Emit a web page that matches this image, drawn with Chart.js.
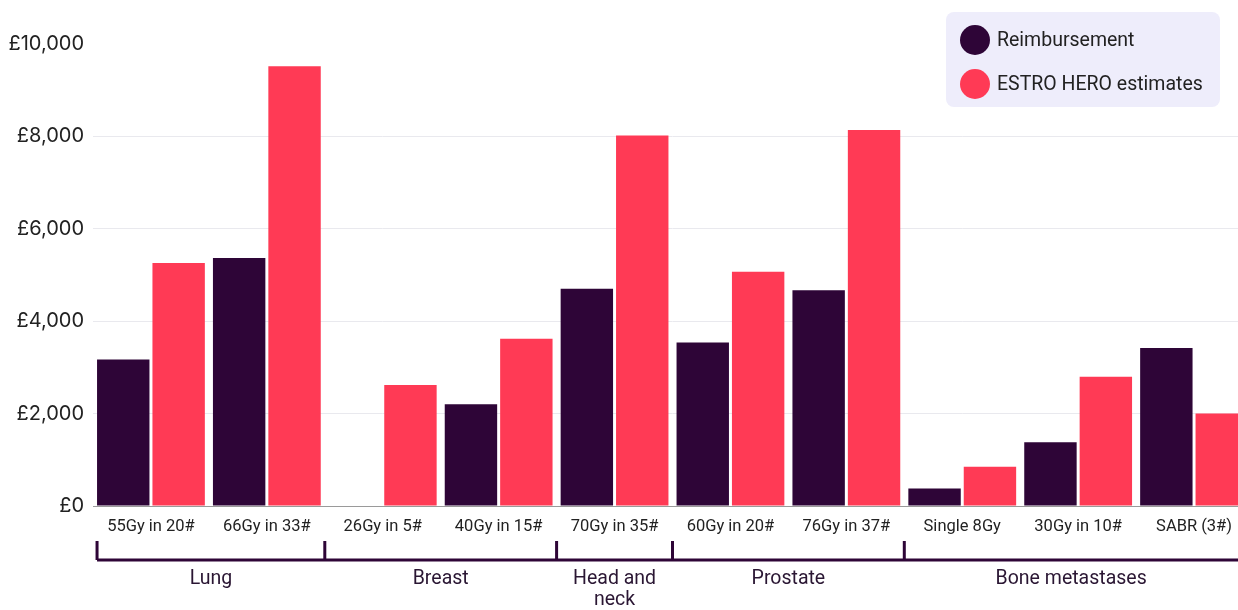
<!DOCTYPE html>
<html>
<head>
<meta charset="utf-8">
<script src="https://cdn.jsdelivr.net/npm/chart.js@4"></script>
<style>
  html, body { margin: 0; padding: 0; background: #ffffff; overflow: hidden; }
  #wrap { width: 1256px; height: 610px; position: relative; }
</style>
</head>
<body>
<div id="wrap"><canvas id="chart"></canvas></div>
<script>
// Treatment regimens (one bar pair each)
const regimens = ['55Gy in 20#', '66Gy in 33#', '26Gy in 5#', '40Gy in 15#', '70Gy in 35#',
                  '60Gy in 20#', '76Gy in 37#', 'Single 8Gy', '30Gy in 10#', 'SABR (3#)'];

// Cost per course, £
const reimbursement = [3170, 5370, 0, 2200, 4700, 3540, 4670, 380, 1380, 3420];
const estroHero     = [5260, 9520, 2620, 3620, 8020, 5070, 8140, 850, 2800, 2000];

// Tumour sites and how many regimens each one covers
const sites     = ['Lung', 'Breast', ['Head and', 'neck'], 'Prostate', 'Bone metastases'];
const siteSizes = [2, 2, 1, 2, 3];

// Value axis ticks
const yTicks = [0, 2000, 4000, 6000, 8000, 10000];

const DARK = '#2e0537';
const RED  = '#ff3a55';
const INK  = '#222222';

// Brackets under the category labels, one per tumour site
const siteBrackets = {
  id: 'siteBrackets',
  afterDraw(chart) {
    const ctx = chart.ctx;
    const x = chart.scales.x;
    const meta = chart.getDatasetMeta(0);
    const first = meta.data[0];
    const yLine = 560, yTop = 541;
    const edges = [];
    let idx = 0;
    edges.push(first.x - first.width / 2);
    siteSizes.forEach(n => {
      idx += n;
      if (idx < regimens.length) {
        edges.push((x.getPixelForValue(idx - 1) + x.getPixelForValue(idx)) / 2);
      } else {
        edges.push(chart.width);
      }
    });
    ctx.save();
    ctx.strokeStyle = DARK;
    ctx.lineWidth = 3;
    ctx.beginPath();
    ctx.moveTo(edges[0], yLine);
    ctx.lineTo(edges[edges.length - 1], yLine);
    for (let i = 0; i < edges.length - 1; i++) {
      ctx.moveTo(edges[i], yTop);
      ctx.lineTo(edges[i], yLine);
    }
    ctx.stroke();
    ctx.fillStyle = '#2a1633';
    ctx.font = '19.5px Roboto';
    ctx.textAlign = 'center';
    ctx.textBaseline = 'middle';
    const visibleRight = 1238;
    sites.forEach((s, i) => {
      const right = Math.min(edges[i + 1], visibleRight);
      const cx = (edges[i] + right) / 2;
      const lines = Array.isArray(s) ? s : [s];
      lines.forEach((t, j) => ctx.fillText(t, cx, 579 + j * 21));
    });
    ctx.restore();
  }
};

// Legend panel in the top right corner
const legendPanel = {
  id: 'legendPanel',
  afterDraw(chart) {
    const ctx = chart.ctx;
    const bx = 946, by = 12, bw = 274, bh = 95, r = 8;
    ctx.save();
    ctx.fillStyle = '#eeedfb';
    ctx.beginPath();
    ctx.roundRect(bx, by, bw, bh, r);
    ctx.fill();
    ctx.font = '19.5px Roboto';
    ctx.textAlign = 'left';
    ctx.textBaseline = 'middle';
    chart.data.datasets.forEach((ds, i) => {
      const cy = 40 + i * 44;
      ctx.fillStyle = ds.backgroundColor;
      ctx.beginPath();
      ctx.arc(975, cy, 15, 0, Math.PI * 2);
      ctx.fill();
      ctx.fillStyle = INK;
      ctx.fillText(ds.label, 997, cy + 1);
    });
    ctx.restore();
  }
};

new Chart(document.getElementById('chart'), {
  type: 'bar',
  data: {
    labels: regimens,
    datasets: [
      { label: 'Reimbursement', data: reimbursement, backgroundColor: DARK },
      { label: 'ESTRO HERO estimates', data: estroHero, backgroundColor: RED }
    ]
  },
  options: {
    responsive: true,
    maintainAspectRatio: false,
    animation: false,
    layout: { padding: { top: 44, right: 4, left: 0, bottom: 0 } },
    datasets: { bar: { categoryPercentage: 0.956, barPercentage: 0.946 } },
    plugins: { legend: { display: false }, tooltip: { enabled: false } },
    scales: {
      x: {
        grid: { display: false },
        border: { display: true, color: '#9a9a9a', width: 1 },
        ticks: { color: INK, font: { family: 'Roboto', size: 16.5 }, padding: 3, maxRotation: 0, autoSkip: false },
        afterFit(scale) { scale.height = 104; }
      },
      y: {
        min: 0,
        max: 10000,
        afterBuildTicks(scale) { scale.ticks = yTicks.map(v => ({ value: v })); },
        grid: {
          drawTicks: false,
          color: ctx => (ctx.tick && ctx.tick.value === 10000) ? 'rgba(0,0,0,0)' : '#e9e9ee',
          lineWidth: 1
        },
        border: { display: false },
        ticks: {
          color: INK,
          font: { family: 'Inter', size: 20 },
          padding: 9,
          callback: v => '£' + Number(v).toLocaleString('en-GB')
        },
        afterFit(scale) { scale.width = 93; }
      }
    }
  },
  plugins: [siteBrackets, legendPanel]
});
</script>
</body>
</html>
